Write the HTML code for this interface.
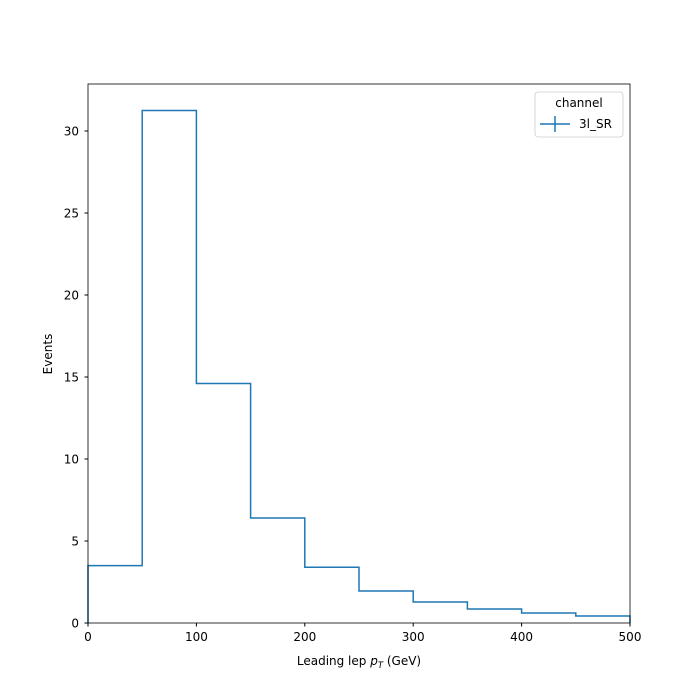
<!DOCTYPE html>
<html><head><meta charset="utf-8"><style>
html,body{margin:0;padding:0;background:#fff;width:700px;height:700px;overflow:hidden;}
svg{display:block;}
svg text{font-family:"DejaVu Sans","Liberation Sans",sans-serif;fill:#000;}
</style></head><body>
<svg id="chart" width="700" height="700" viewBox="0 0 700 700" xmlns="http://www.w3.org/2000/svg">
<rect width="700" height="700" fill="#fff"/>
<g id="ticks"></g>
<path id="hist" fill="none" stroke="#1f77b4" stroke-width="1.5"/>
<rect x="88" y="84" width="542" height="539" fill="none" stroke="#000" stroke-width="0.8"/>
<text x="359" y="665" font-size="12" text-anchor="middle">Leading lep <tspan font-style="italic">p</tspan><tspan font-style="italic" font-size="8.5" dy="3">T</tspan><tspan dy="-3"> (GeV)</tspan></text>
<text transform="translate(52,354) rotate(-90)" font-size="12" text-anchor="middle">Events</text>
<g>
<rect x="535" y="92" width="88" height="45" rx="3" fill="#fff" stroke="#ccc" stroke-width="0.8"/>
<text x="579" y="107" font-size="12" text-anchor="middle">channel</text>
<line x1="540" y1="124" x2="570" y2="124" stroke="#1f77b4" stroke-width="1.5"/>
<line x1="555" y1="116" x2="555" y2="132" stroke="#1f77b4" stroke-width="1.5"/>
<text x="579" y="128" font-size="12">3l_SR</text>
</g>
</svg>
<script>
const binEdges=[0,50,100,150,200,250,300,350,400,450,500];
const counts=[3.5,31.25,14.6,6.4,3.4,1.95,1.28,0.85,0.61,0.43];
const xTicks=[0,100,200,300,400,500];
const yTicks=[0,5,10,15,20,25,30];
const X=v=>88+v*(542/500);
const Y=v=>623-v*16.4;
let d=`M${X(binEdges[0])},${Y(0)}`;
counts.forEach((c,i)=>{d+=` L${X(binEdges[i])},${Y(c)} L${X(binEdges[i+1])},${Y(c)}`;});
d+=` L${X(binEdges[binEdges.length-1])},${Y(0)}`;
document.getElementById('hist').setAttribute('d',d);
const g=document.getElementById('ticks');
const NS='http://www.w3.org/2000/svg';
xTicks.forEach(t=>{
 const l=document.createElementNS(NS,'line');
 l.setAttribute('x1',X(t));l.setAttribute('x2',X(t));l.setAttribute('y1',623);l.setAttribute('y2',626.5);l.setAttribute('stroke','#000');
 
 
 g.appendChild(l);
 const tx=document.createElementNS(NS,'text');
 tx.setAttribute('x',X(t));tx.setAttribute('y',641);tx.setAttribute('font-size','12');tx.setAttribute('text-anchor','middle');tx.textContent=t;
 
 
 g.appendChild(tx);
});
yTicks.forEach(t=>{
 const l=document.createElementNS(NS,'line');
 l.setAttribute('x1',84.5);l.setAttribute('x2',88);l.setAttribute('y1',Y(t));l.setAttribute('y2',Y(t));l.setAttribute('stroke','#000');
 
 
 g.appendChild(l);
 const tx=document.createElementNS(NS,'text');
 tx.setAttribute('x',79);tx.setAttribute('y',Y(t)+4.5);tx.setAttribute('font-size','12');tx.setAttribute('text-anchor','end');tx.textContent=t;
 
 
 g.appendChild(tx);
});
</script>
</body></html>
